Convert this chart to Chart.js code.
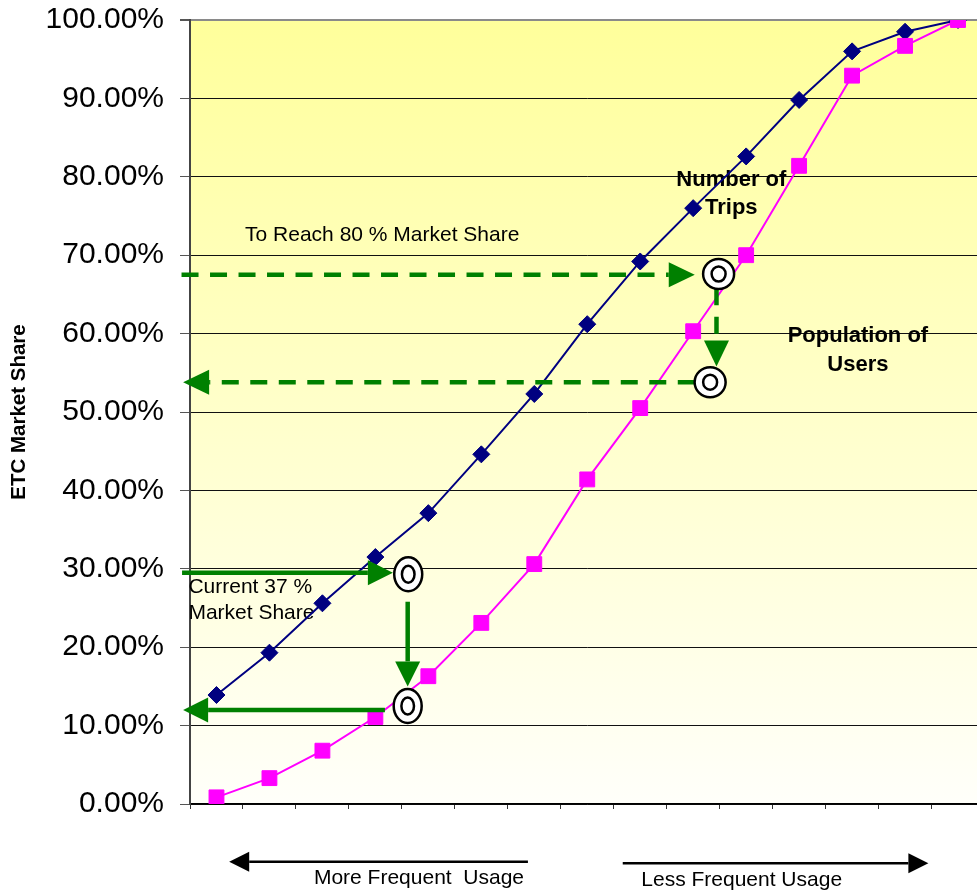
<!DOCTYPE html>
<html><head><meta charset="utf-8">
<script src="https://cdn.jsdelivr.net/npm/chart.js@4.4.1/dist/chart.umd.min.js"></script>
<style>html,body{margin:0;padding:0;overflow:hidden;background:#fff}canvas{display:block}</style>
</head><body>
<canvas id="c" width="996" height="893"></canvas>
<script>
// ---- data ----
const categories = ['1','2','3','4','5','6','7','8','9','10','11','12','13','14','15'];
const tripsShare = [13.9, 19.3, 25.6, 31.5, 37.1, 44.6, 52.3, 61.2, 69.2, 76.0, 82.6, 89.8, 96.0, 98.5, 100.0];
const usersShare = [0.85, 3.3, 6.8, 11.1, 16.3, 23.1, 30.6, 41.4, 50.5, 60.3, 70.0, 81.4, 92.9, 96.7, 100.0];
const yMin = 0, yMax = 100, yStep = 10;

// annotation positions in data space: [categoryIndex, percent]
const dashedArrows = [[-0.66, 67.5, 9.03, 67.5], [9.44, 65.8, 9.44, 55.8], [9.03, 53.8, -0.63, 53.8]];
const solidArrows  = [[-0.65, 29.5, 3.33, 29.5], [3.61, 25.8, 3.61, 15.0], [3.18, 12.0, -0.63, 12.0]];
const usageArrows  = [[5.88, -7.36, 0.24, -7.36], [7.67, -7.56, 13.44, -7.56]];
const targets = [[9.48, 67.6, 15.5, 15], [9.32, 53.8, 15.5, 15], [3.62, 29.3, 14, 17], [3.61, 12.5, 14, 17]];
const notes = [
  ['To Reach 80 % Market Share', 0.54, 72.6, 'left', 'normal'],
  ['Number of', 9.72, 79.6, 'center', 'bold'],
  ['Trips', 9.72, 76.0, 'center', 'bold'],
  ['Population of', 12.11, 59.7, 'center', 'bold'],
  ['Users', 12.11, 56.0, 'center', 'bold'],
  ['Current 37 %', -0.53, 27.7, 'left', 'normal'],
  ['Market Share', -0.53, 24.3, 'left', 'normal'],
  ['More Frequent  Usage', 1.84, -9.44, 'left', 'normal'],
  ['Less Frequent Usage', 8.02, -9.7, 'left', 'normal']
];

const FONT = '"Liberation Sans", Arial, sans-serif';

function drawArrow(ctx, x1, y1, x2, y2, color, lw, headL, headW, dash) {
  const dx = x2 - x1, dy = y2 - y1, len = Math.hypot(dx, dy);
  const ux = dx / len, uy = dy / len;
  const bx = x2 - ux * headL, by = y2 - uy * headL;
  ctx.save();
  ctx.strokeStyle = color; ctx.fillStyle = color; ctx.lineWidth = lw;
  ctx.setLineDash(dash || []);
  ctx.beginPath(); ctx.moveTo(x1, y1); ctx.lineTo(bx, by); ctx.stroke();
  ctx.setLineDash([]);
  ctx.beginPath();
  ctx.moveTo(x2, y2);
  ctx.lineTo(bx - uy * headW, by + ux * headW);
  ctx.lineTo(bx + uy * headW, by - ux * headW);
  ctx.closePath(); ctx.fill();
  ctx.restore();
}

const annot = {
  id: 'annot',
  beforeDraw(chart) {
    const {ctx, chartArea: a} = chart;
    const g = ctx.createLinearGradient(0, a.top, 0, a.bottom);
    g.addColorStop(0, 'rgb(255,255,155)');
    g.addColorStop(1, 'rgb(255,255,250)');
    ctx.save(); ctx.fillStyle = g; ctx.fillRect(a.left, a.top, a.right - a.left, a.bottom - a.top); ctx.restore();
  },
  beforeDatasetsDraw(chart) {
    const {ctx, scales: {x, y}} = chart;
    ctx.save();
    ctx.fillStyle = '#000';
    ctx.textBaseline = 'middle';
    for (const [t, i, v, al, w] of notes) {
      ctx.font = (w === 'bold' ? 'bold 22px ' : '21px ') + FONT;
      ctx.textAlign = al;
      ctx.fillText(t, x.getPixelForValue(i), y.getPixelForValue(v));
    }
    ctx.restore();
  },
  afterDatasetsDraw(chart) {
    const {ctx, scales: {x, y}} = chart;
    const P = (i, v) => [x.getPixelForValue(i), y.getPixelForValue(v)];
    for (const [i1, v1, i2, v2] of dashedArrows) {
      const [a, b] = P(i1, v1), [c, d] = P(i2, v2);
      drawArrow(ctx, a, b, c, d, '#008000', 4.5, 26, 12.5, [17, 11.5]);
    }
    for (const [i1, v1, i2, v2] of solidArrows) {
      const [a, b] = P(i1, v1), [c, d] = P(i2, v2);
      drawArrow(ctx, a, b, c, d, '#008000', 4.5, 25, 12.5);
    }
    for (const [i1, v1, i2, v2] of usageArrows) {
      const [a, b] = P(i1, v1), [c, d] = P(i2, v2);
      drawArrow(ctx, a, b, c, d, '#000', 2.5, 20, 10);
    }
    ctx.save();
    for (const [i, v, rx, ry] of targets) {
      const [cx, cy] = P(i, v);
      ctx.beginPath(); ctx.ellipse(cx, cy, rx, ry, 0, 0, Math.PI * 2);
      ctx.fillStyle = '#fff'; ctx.fill();
      ctx.lineWidth = 2.5; ctx.strokeStyle = '#000'; ctx.stroke();
      ctx.beginPath(); ctx.ellipse(cx, cy, rx * 0.45, ry * 0.5, 0, 0, Math.PI * 2);
      ctx.stroke();
    }
    ctx.restore();
  }
};

new Chart(document.getElementById('c'), {
  type: 'line',
  data: {
    labels: categories,
    datasets: [
      { label: 'Population of Users', data: usersShare, borderColor: '#FF00FF', backgroundColor: '#FF00FF',
        borderWidth: 2, pointStyle: 'rect', pointRadius: 10.5, pointBorderWidth: 1, pointBorderColor: '#FF00FF',
        tension: 0, order: 0 },
      { label: 'Number of Trips', data: tripsShare, borderColor: '#000080', backgroundColor: '#000080',
        borderWidth: 2, pointStyle: 'rectRot', pointRadius: 8.5, pointBorderWidth: 1, pointBorderColor: '#000080',
        tension: 0, order: 1 }
    ]
  },
  options: {
    responsive: false, animation: false, devicePixelRatio: 1,
    layout: { padding: { top: 20, right: 5, left: 0, bottom: 0 } },
    plugins: { legend: { display: false }, tooltip: { enabled: false } },
    scales: {
      x: {
        offset: true,
        grid: { offset: true, drawOnChartArea: false, tickLength: 5, color: '#333', lineWidth: 1 },
        border: { color: '#000', width: 1.5 },
        ticks: { callback: () => '', padding: 0 },
        afterFit(s) { s.height = 89; s.paddingLeft = 0; s.paddingRight = 0; }
      },
      y: {
        min: yMin, max: yMax,
        ticks: { stepSize: yStep, callback: v => v.toFixed(2) + '%', color: '#000', padding: 16,
                 font: { family: FONT, size: 30 } },
        grid: { color: c => (c.tick && c.tick.value === yMax) ? '#8a8a8a' : '#111',
                lineWidth: c => (c.tick && c.tick.value === yMax) ? 2 : 1,
                tickLength: 10, tickColor: '#555' },
        border: { color: '#444', width: 2 },
        title: { display: true, text: 'ETC Market Share', color: '#000',
                 font: { family: FONT, size: 20.5, weight: 'bold' }, padding: { top: 7, bottom: 0 } },
        afterFit(s) { s.width = 190; s.paddingTop = 0; s.paddingBottom = 0; }
      }
    }
  },
  plugins: [annot]
});
</script>
</body></html>
